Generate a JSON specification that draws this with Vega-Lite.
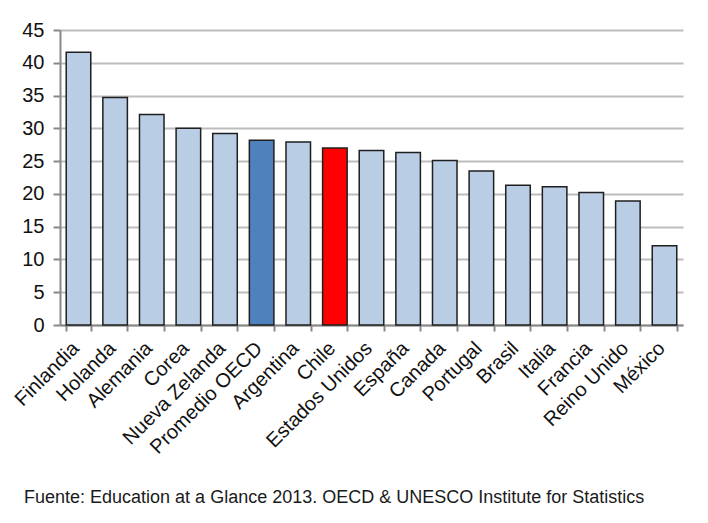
{
  "$schema": "https://vega.github.io/schema/vega-lite/v6.json",
  "autosize": {"type": "none"},
  "width": 623,
  "height": 295,
  "padding": {"left": 60, "top": 30, "right": 25, "bottom": 198},
  "background": "white",
  "config": {
    "font": "Liberation Sans",
    "view": {"stroke": null}
  },
  "title": {
    "text": "Fuente:  Education at a Glance 2013. OECD & UNESCO Institute  for Statistics",
    "orient": "bottom",
    "anchor": "start",
    "frame": "group",
    "dx": -36,
    "offset": 32,
    "fontSize": 18,
    "fontWeight": "normal",
    "color": "#1a1a1a",
    "font": "Liberation Sans"
  },
  "data": {
    "values": [
      {"pais": "Finlandia", "valor": 41.6, "grupo": "pais"},
      {"pais": "Holanda", "valor": 34.7, "grupo": "pais"},
      {"pais": "Alemania", "valor": 32.1, "grupo": "pais"},
      {"pais": "Corea", "valor": 30.0, "grupo": "pais"},
      {"pais": "Nueva Zelanda", "valor": 29.2, "grupo": "pais"},
      {"pais": "Promedio OECD", "valor": 28.2, "grupo": "oecd"},
      {"pais": "Argentina", "valor": 27.9, "grupo": "pais"},
      {"pais": "Chile", "valor": 27.0, "grupo": "chile"},
      {"pais": "Estados Unidos", "valor": 26.6, "grupo": "pais"},
      {"pais": "España", "valor": 26.3, "grupo": "pais"},
      {"pais": "Canada", "valor": 25.1, "grupo": "pais"},
      {"pais": "Portugal", "valor": 23.5, "grupo": "pais"},
      {"pais": "Brasil", "valor": 21.3, "grupo": "pais"},
      {"pais": "Italia", "valor": 21.1, "grupo": "pais"},
      {"pais": "Francia", "valor": 20.2, "grupo": "pais"},
      {"pais": "Reino Unido", "valor": 18.9, "grupo": "pais"},
      {"pais": "México", "valor": 12.1, "grupo": "pais"}
    ]
  },
  "mark": {"type": "bar", "stroke": "#1f1f1f", "strokeWidth": 1.5},
  "encoding": {
    "x": {
      "field": "pais",
      "type": "nominal",
      "sort": null,
      "title": null,
      "scale": {"paddingInner": 0.33, "paddingOuter": 0.17},
      "axis": {
        "labelAngle": -45,
        "labelAlign": "right",
        "labelBaseline": "middle",
        "labelFontSize": 20,
        "labelColor": "#111111",
        "labelPadding": 14,
        "labelOffset": -3,
        "tickBand": "extent",
        "tickSize": 6,
        "tickColor": "#888888",
        "tickWidth": 2,
        "domainColor": "#888888",
        "domainWidth": 2,
        "grid": false
      }
    },
    "y": {
      "field": "valor",
      "type": "quantitative",
      "title": null,
      "scale": {"domain": [0, 45], "nice": false},
      "axis": {
        "values": [0, 5, 10, 15, 20, 25, 30, 35, 40, 45],
        "labelFontSize": 20,
        "labelColor": "#111111",
        "labelPadding": 9,
        "tickSize": 7,
        "tickColor": "#888888",
        "tickWidth": 2,
        "domainColor": "#888888",
        "domainWidth": 2,
        "grid": true,
        "gridColor": "#bdbdbd",
        "gridWidth": 2
      }
    },
    "color": {
      "field": "grupo",
      "type": "nominal",
      "scale": {"domain": ["pais", "oecd", "chile"], "range": ["#b9cde5", "#4f81bd", "#ff0000"]},
      "legend": null
    }
  }
}
